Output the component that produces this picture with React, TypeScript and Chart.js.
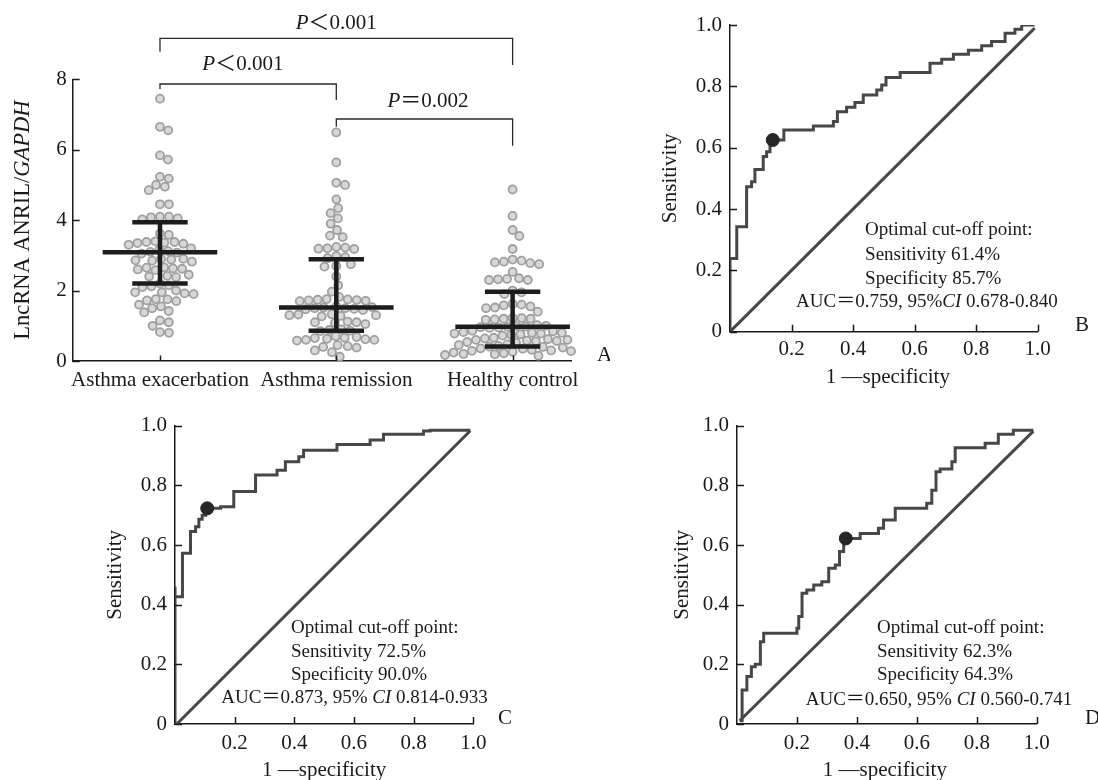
import React, { useEffect, useRef } from "react";
import { Chart, registerables } from "chart.js";

Chart.register(...registerables);

const FAMILY = "'Liberation Serif', 'Noto Sans CJK SC', serif";
const INK = "#1a1a1a";
const ROC_LINE = "#474747";

// ---------------- Panel A data ----------------
const CATEGORIES = ["Asthma exacerbation", "Asthma remission", "Healthy control"];
const EXACERBATION = [
  7.45, 6.65, 6.55, 5.84, 5.72, 5.23, 5.18, 5.0, 4.95, 4.85, 4.45, 4.45,
  4.1, 4.08, 4.05, 4.02, 4.1, 3.62, 3.58,
  3.4, 3.38, 3.36, 3.35, 3.33, 3.38, 3.3,
  3.2, 3.15, 3.1, 3.08, 3.05, 3.12,
  2.9, 2.88, 2.86, 2.85, 2.82, 2.9,
  2.65, 2.63, 2.6, 2.62, 2.66, 2.58,
  2.45, 2.4, 2.38, 2.42,
  2.2, 2.15, 2.12, 2.1,
  2.0, 1.95, 1.92, 1.9, 1.95,
  1.75, 1.72, 1.7, 1.76,
  1.6, 1.55, 1.5, 1.42, 1.38, 1.15, 1.1, 1.0, 0.82, 0.8,
];
const REMISSION = [
  6.49, 5.64, 5.06, 5.0, 4.59, 4.34, 4.2, 4.05, 3.9, 3.72, 3.56, 3.52,
  3.24, 3.22, 3.2, 3.19, 3.18, 2.98, 2.95, 2.92, 2.75, 2.7, 2.68, 2.4, 2.15,
  1.97, 1.82,
  1.75, 1.73, 1.72, 1.74, 1.7, 1.76, 1.71,
  1.55, 1.52, 1.5, 1.48, 1.5, 1.53, 1.47, 1.45,
  1.32, 1.3, 1.28, 1.33, 1.3, 1.27,
  1.12, 1.1, 1.08, 1.05, 1.1,
  0.9, 0.88, 0.86, 0.85,
  0.68, 0.65, 0.62, 0.6, 0.58, 0.6, 0.63, 0.66, 0.7,
  0.45, 0.42, 0.4, 0.38, 0.3, 0.25, 0.12,
];
const HEALTHY = [
  4.87, 4.12, 3.72, 3.55, 3.18,
  2.88, 2.85, 2.82, 2.78, 2.75, 2.8, 2.53,
  2.35, 2.32, 2.3, 2.3, 2.33,
  2.0, 1.95, 1.9,
  1.62, 1.58, 1.55, 1.5, 1.52, 1.6, 1.4,
  1.22, 1.2, 1.18, 1.2, 1.22, 1.17,
  1.0, 0.98, 0.97, 0.95, 1.02, 0.96, 0.99, 0.94,
  0.82, 0.78, 0.74, 0.84, 0.76, 0.8, 0.86, 0.72, 0.78, 0.8,
  0.62, 0.56, 0.66, 0.54, 0.6, 0.58, 0.64, 0.52, 0.6, 0.57,
  0.45, 0.4, 0.36, 0.43, 0.38, 0.41, 0.47, 0.35,
  0.3, 0.24, 0.2, 0.28, 0.22, 0.17, 0.32, 0.26, 0.19, 0.23, 0.29, 0.15,
];
const MEDIANS = [3.09, 1.52, 0.97];
const Q1 = [2.2, 0.86, 0.41];
const Q3 = [3.94, 2.89, 1.97];
const A_Y_TICKS = [0, 2, 4, 6, 8];
const COMPARE_FROM = [1, 1, 2];
const COMPARE_TO = [3, 2, 3];
const COMPARE_TEXT = ["＜0.001", "＜0.001", "＝0.002"];

// ---------------- ROC data ----------------
const ROC_X_TICKS = [0.2, 0.4, 0.6, 0.8, 1.0];
const ROC_Y_TICKS = [0, 0.2, 0.4, 0.6, 0.8, 1.0];

const B_FPR = [0, 0.022, 0.054, 0.07, 0.081, 0.108, 0.119, 0.13, 0.175, 0.271, 0.336, 0.349, 0.379, 0.406, 0.433, 0.477, 0.493, 0.507, 0.553, 0.65, 0.688, 0.726, 0.775, 0.818, 0.85, 0.894, 0.926, 0.948, 0.99];
const B_TPR = [0, 0.239, 0.342, 0.473, 0.489, 0.529, 0.571, 0.587, 0.625, 0.658, 0.671, 0.685, 0.717, 0.732, 0.747, 0.772, 0.788, 0.804, 0.829, 0.845, 0.875, 0.888, 0.905, 0.918, 0.932, 0.946, 0.973, 0.986, 1.0];
const B_CUTOFF = [0.139, 0.625];
const B_DIAG_X = [0, 0.99];
const B_DIAG_Y = [0, 0.99];
const B_NOTE = ["Optimal cut-off point:", "Sensitivity 61.4%", "Specificity 85.7%"];
const B_AUC = ["AUC＝0.759, 95%", "CI", " 0.678-0.840"];

const C_FPR = [0, 0, 0.025, 0.052, 0.069, 0.08, 0.091, 0.103, 0.153, 0.197, 0.27, 0.342, 0.37, 0.415, 0.431, 0.543, 0.654, 0.699, 0.833, 0.855, 0.99];
const C_TPR = [0, 0.46, 0.427, 0.572, 0.645, 0.661, 0.686, 0.7, 0.723, 0.728, 0.779, 0.835, 0.851, 0.879, 0.896, 0.918, 0.937, 0.952, 0.971, 0.982, 0.985];
const C_CUTOFF = [0.108, 0.723];
const C_DIAG_X = [0.006, 0.99];
const C_DIAG_Y = [0, 0.983];
const C_NOTE = ["Optimal cut-off point:", "Sensitivity 72.5%", "Specificity 90.0%"];
const C_AUC = ["AUC＝0.873, 95% ", "CI", " 0.814-0.933"];

const D_FPR = [0.009, 0.017, 0.033, 0.048, 0.061, 0.078, 0.089, 0.2, 0.206, 0.217, 0.233, 0.256, 0.283, 0.306, 0.328, 0.342, 0.356, 0.411, 0.472, 0.489, 0.528, 0.633, 0.65, 0.664, 0.678, 0.717, 0.728, 0.828, 0.872, 0.922, 0.989];
const D_TPR = [0.011, 0.011, 0.114, 0.159, 0.192, 0.2, 0.276, 0.304, 0.321, 0.36, 0.438, 0.449, 0.466, 0.477, 0.522, 0.533, 0.578, 0.622, 0.639, 0.656, 0.684, 0.723, 0.74, 0.784, 0.846, 0.855, 0.879, 0.926, 0.941, 0.971, 0.985];
const D_CUTOFF = [0.363, 0.622];
const D_DIAG_X = [0.009, 0.989];
const D_DIAG_Y = [0.011, 0.982];
const D_NOTE = ["Optimal cut-off point:", "Sensitivity 62.3%", "Specificity 64.3%"];
const D_AUC = ["AUC＝0.650, 95% ", "CI", " 0.560-0.741"];

// ---------------- layout ----------------
const A_LAYOUT = {
  left: 0, top: 0, w: 610, h: 400,
  axisW: 72.7, axisH: 39, padTop: 79.3, padRight: 38.3,
  xMin: 0.505, xMax: 3.335,
  medianHalf: 0.325, capHalf: 0.157, swarmGap: 9,
  bracketY: [9.165, 7.867, 6.873],
  bracketLeftEnd: [8.785, 7.717, 6.655],
  bracketRightEnd: [8.407, 7.413, 6.115],
  labelX: [2.0, 1.47, 2.52],
  labelY: [9.59, 8.41, 7.36],
  letter: [597, 355],
  yTitleX: 23,
};

const ROC_PANELS = [
  {
    key: "B", left: 610, top: 0, w: 488, h: 400, axisW: 120, axisH: 68.3, padTop: 25, padRight: 60.3,
    fpr: B_FPR, tpr: B_TPR, cut: B_CUTOFF, diagX: B_DIAG_X, diagY: B_DIAG_Y, note: B_NOTE, auc: B_AUC,
    noteX: 0.439, noteY: [0.332, 0.249, 0.173, 0.097], aucX: 0.64,
    letter: [465, 325], yTitleGap: 60, xTitleGap: 46, xTitleDx: 4, xLabelPad: 5,
  },
  {
    key: "C", left: 0, top: 400, w: 549, h: 380, axisW: 175, axisH: 56, padTop: 25.7, padRight: 75.7,
    fpr: C_FPR, tpr: C_TPR, cut: C_CUTOFF, diagX: C_DIAG_X, diagY: C_DIAG_Y, note: C_NOTE, auc: C_AUC,
    noteX: 0.389, noteY: [0.321, 0.242, 0.164, 0.086], aucX: 0.602,
    letter: [498, 318], yTitleGap: 60, xTitleGap: 46, xTitleDx: 0, xLabelPad: 7,
  },
  {
    key: "D", left: 549, top: 400, w: 549, h: 380, axisW: 188, axisH: 56, padTop: 25.7, padRight: 61.3,
    fpr: D_FPR, tpr: D_TPR, cut: D_CUTOFF, diagX: D_DIAG_X, diagY: D_DIAG_Y, note: D_NOTE, auc: D_AUC,
    noteX: 0.467, noteY: [0.321, 0.242, 0.164, 0.08], aucX: 0.674,
    letter: [536, 318], yTitleGap: 55, xTitleGap: 46, xTitleDx: -2, xLabelPad: 7,
  },
];

// ---------------- helpers ----------------
type Seg = { t: string; i?: boolean };

function fontStr(size: number, italic = false) {
  return `${italic ? "italic " : ""}${size}px ${FAMILY}`;
}

function drawRich(ctx: CanvasRenderingContext2D, segs: Seg[], x: number, y: number, size: number, align: "left" | "center" | "right" = "center") {
  let total = 0;
  const widths = segs.map((s) => {
    ctx.font = fontStr(size, !!s.i);
    const w = ctx.measureText(s.t).width;
    total += w;
    return w;
  });
  let cx = align === "left" ? x : align === "center" ? x - total / 2 : x - total;
  ctx.textAlign = "left";
  ctx.textBaseline = "middle";
  ctx.fillStyle = INK;
  segs.forEach((s, k) => {
    ctx.font = fontStr(size, !!s.i);
    ctx.fillText(s.t, cx, y);
    cx += widths[k];
  });
}

function inwardTicks(xTicks: number[], yTicks: number[], xLen: number, yLen: number) {
  return {
    id: "inwardTicks",
    afterDatasetsDraw(chart: any) {
      const ctx = chart.ctx as CanvasRenderingContext2D;
      const xs = chart.scales.x;
      const ys = chart.scales.y;
      const { left, bottom } = chart.chartArea;
      ctx.save();
      ctx.strokeStyle = INK;
      ctx.lineWidth = 1.5;
      xTicks.forEach((t) => {
        const px = Math.round(xs.getPixelForValue(t)) + 0.5;
        ctx.beginPath();
        ctx.moveTo(px, bottom);
        ctx.lineTo(px, bottom - xLen);
        ctx.stroke();
      });
      yTicks.forEach((t) => {
        const py = Math.round(ys.getPixelForValue(t)) + 0.5;
        ctx.beginPath();
        ctx.moveTo(left, py);
        ctx.lineTo(left + yLen, py);
        ctx.stroke();
      });
      ctx.restore();
    },
  };
}

function stepPath(fpr: number[], tpr: number[]) {
  const pts = [{ x: fpr[0], y: tpr[0] }];
  for (let i = 1; i < fpr.length; i++) {
    pts.push({ x: fpr[i - 1], y: tpr[i] });
    pts.push({ x: fpr[i], y: tpr[i] });
  }
  return pts;
}

function swarm(values: number[], centerPx: number, xs: any, ys: any, gap: number) {
  const order = values.map((_, i) => i).sort((a, b) => values[b] - values[a]);
  const placed: { x: number; y: number }[] = [];
  const out: any[] = new Array(values.length);
  for (const i of order) {
    const py = ys.getPixelForValue(values[i]);
    const cands = [0];
    for (const p of placed) {
      const dy = py - p.y;
      if (Math.abs(dy) < gap) {
        const dx = Math.sqrt(gap * gap - dy * dy);
        cands.push(p.x + dx, p.x - dx);
      }
    }
    cands.sort((a, b) => Math.abs(a) - Math.abs(b) || b - a);
    let chosen = 0;
    for (const c of cands) {
      if (placed.every((p) => (p.x - c) ** 2 + (p.y - py) ** 2 >= gap * gap - 0.01)) {
        chosen = c;
        break;
      }
    }
    placed.push({ x: chosen, y: py });
    out[i] = { x: xs.getValueForPixel(centerPx + chosen), y: values[i] };
  }
  return out;
}

const tickFont = { family: FAMILY, size: 21 };

// ---------------- Panel A ----------------
function makePanelA(canvas: HTMLCanvasElement) {
  const L = A_LAYOUT;
  const groups = [EXACERBATION, REMISSION, HEALTHY];

  const errPts: any[] = [];
  for (let g = 0; g < 3; g++) {
    const c = g + 1;
    errPts.push({ x: c - L.medianHalf, y: MEDIANS[g] }, { x: c + L.medianHalf, y: MEDIANS[g] }, { x: c, y: null });
    errPts.push({ x: c - L.capHalf, y: Q3[g] }, { x: c + L.capHalf, y: Q3[g] }, { x: c, y: null });
    errPts.push({ x: c - L.capHalf, y: Q1[g] }, { x: c + L.capHalf, y: Q1[g] }, { x: c, y: null });
    errPts.push({ x: c, y: Q1[g] }, { x: c, y: Q3[g] }, { x: c, y: null });
  }

  const brPts: any[] = [];
  for (let k = 0; k < COMPARE_FROM.length; k++) {
    brPts.push(
      { x: COMPARE_FROM[k], y: L.bracketLeftEnd[k] },
      { x: COMPARE_FROM[k], y: L.bracketY[k] },
      { x: COMPARE_TO[k], y: L.bracketY[k] },
      { x: COMPARE_TO[k], y: L.bracketRightEnd[k] },
      { x: COMPARE_TO[k], y: null }
    );
  }

  const pointSets = groups.map((vals, g) => ({
    type: "scatter",
    data: vals.map((v) => ({ x: g + 1, y: v })),
    pointRadius: 4,
    pointBorderWidth: 1.8,
    pointBackgroundColor: "#d8d8d8",
    pointBorderColor: "#a0a0a0",
    backgroundColor: "#d8d8d8",
    borderColor: "#a0a0a0",
    order: 3,
    clip: false,
  }));

  const textPlugin = {
    id: "panelAText",
    afterDraw(chart: any) {
      const ctx = chart.ctx as CanvasRenderingContext2D;
      const xs = chart.scales.x;
      const ys = chart.scales.y;
      const { top, bottom } = chart.chartArea;
      ctx.save();
      ctx.translate(L.yTitleX, (top + bottom) / 2);
      ctx.rotate(-Math.PI / 2);
      drawRich(ctx, [{ t: "LncRNA ANRIL/" }, { t: "GAPDH", i: true }], 0, 0, 22.5, "center");
      ctx.restore();
      ctx.save();
      for (let k = 0; k < COMPARE_TEXT.length; k++) {
        drawRich(ctx, [{ t: "P", i: true }, { t: COMPARE_TEXT[k] }], xs.getPixelForValue(L.labelX[k]), ys.getPixelForValue(L.labelY[k]), 21, "center");
      }
      drawRich(ctx, [{ t: "A" }], L.letter[0], L.letter[1], 21, "left");
      ctx.restore();
    },
  };

  const chart = new Chart(canvas, {
    type: "scatter",
    data: {
      datasets: [
        { type: "line", data: errPts, borderColor: "#1c1c1c", borderWidth: 4.5, pointRadius: 0, spanGaps: false, tension: 0, order: 1 } as any,
        { type: "line", data: brPts, borderColor: "#2a2a2a", borderWidth: 1.3, pointRadius: 0, spanGaps: false, tension: 0, order: 0, clip: false } as any,
        ...(pointSets as any[]),
      ],
    },
    options: {
      responsive: false,
      animation: false,
      events: [],
      plugins: { legend: { display: false }, tooltip: { enabled: false } },
      layout: { padding: { left: 0, top: L.padTop, right: L.padRight, bottom: 0 } },
      scales: {
        x: {
          type: "linear",
          min: L.xMin,
          max: L.xMax,
          afterBuildTicks: (s: any) => {
            s.ticks = CATEGORIES.map((_, i) => ({ value: i + 1 }));
          },
          ticks: {
            font: tickFont,
            color: INK,
            padding: 7,
            maxRotation: 0,
            autoSkip: false,
            callback: (v: any) => CATEGORIES[Math.round(v) - 1] ?? "",
          },
          grid: { display: false, drawTicks: false },
          border: { display: true, color: INK, width: 1.5 },
          afterFit: (s: any) => {
            s.height = L.axisH;
            s.paddingLeft = 0;
            s.paddingRight = 0;
          },
        },
        y: {
          type: "linear",
          min: 0,
          max: 8,
          afterBuildTicks: (s: any) => {
            s.ticks = A_Y_TICKS.map((v) => ({ value: v }));
          },
          ticks: { font: tickFont, color: INK, padding: 6, callback: (v: any) => String(v) },
          grid: { display: false, drawTicks: false },
          border: { display: true, color: INK, width: 1.5 },
          afterFit: (s: any) => {
            s.width = L.axisW;
            s.paddingTop = 0;
            s.paddingBottom = 0;
          },
        },
      },
    } as any,
    plugins: [inwardTicks([1, 2, 3], A_Y_TICKS, 5.5, 7) as any, textPlugin as any],
  });

  const xs = chart.scales.x;
  const ys = chart.scales.y;
  groups.forEach((vals, g) => {
    chart.data.datasets[2 + g].data = swarm(vals, xs.getPixelForValue(g + 1), xs, ys, L.swarmGap);
  });
  chart.update();
  return chart;
}

// ---------------- ROC panels ----------------
function makeRoc(canvas: HTMLCanvasElement, P: any) {
  const textPlugin = {
    id: "rocText" + P.key,
    afterDraw(chart: any) {
      const ctx = chart.ctx as CanvasRenderingContext2D;
      const xs = chart.scales.x;
      const ys = chart.scales.y;
      const { left, right, top, bottom } = chart.chartArea;
      ctx.save();
      ctx.translate(left - P.yTitleGap, (top + bottom) / 2);
      ctx.rotate(-Math.PI / 2);
      drawRich(ctx, [{ t: "Sensitivity" }], 0, 0, 21, "center");
      ctx.restore();
      ctx.save();
      drawRich(ctx, [{ t: "1 —specificity" }], (left + right) / 2 + P.xTitleDx, bottom + P.xTitleGap, 21, "center");
      const nx = xs.getPixelForValue(P.noteX);
      P.note.forEach((line: string, i: number) => {
        drawRich(ctx, [{ t: line }], nx, ys.getPixelForValue(P.noteY[i]), 19, "left");
      });
      drawRich(
        ctx,
        [{ t: P.auc[0] }, { t: P.auc[1], i: true }, { t: P.auc[2] }],
        xs.getPixelForValue(P.aucX),
        ys.getPixelForValue(P.noteY[3]),
        19,
        "center"
      );
      drawRich(ctx, [{ t: P.key }], P.letter[0], P.letter[1], 21, "left");
      ctx.restore();
    },
  };

  const fmt = (v: number) => (v === 0 ? "0" : v.toFixed(1));

  return new Chart(canvas, {
    type: "scatter",
    data: {
      datasets: [
        {
          type: "scatter",
          data: [{ x: P.cut[0], y: P.cut[1] }],
          pointRadius: 6.5,
          pointBackgroundColor: "#262626",
          pointBorderColor: "#262626",
          backgroundColor: "#262626",
          borderColor: "#262626",
          order: 0,
        },
        {
          type: "line",
          data: stepPath(P.fpr, P.tpr),
          borderColor: ROC_LINE,
          borderWidth: 3,
          pointRadius: 0,
          tension: 0,
          order: 1,
        },
        {
          type: "line",
          data: P.diagX.map((x: number, i: number) => ({ x, y: P.diagY[i] })),
          borderColor: ROC_LINE,
          borderWidth: 3,
          pointRadius: 0,
          tension: 0,
          order: 2,
        },
      ] as any,
    },
    options: {
      responsive: false,
      animation: false,
      events: [],
      plugins: { legend: { display: false }, tooltip: { enabled: false } },
      layout: { padding: { left: 0, top: P.padTop, right: P.padRight, bottom: 0 } },
      scales: {
        x: {
          type: "linear",
          min: 0,
          max: 1,
          afterBuildTicks: (s: any) => {
            s.ticks = ROC_X_TICKS.map((v) => ({ value: v }));
          },
          ticks: { font: tickFont, color: INK, padding: P.xLabelPad, maxRotation: 0, autoSkip: false, callback: (v: any) => fmt(v) },
          grid: { display: false, drawTicks: false },
          border: { display: true, color: INK, width: 1.5 },
          afterFit: (s: any) => {
            s.height = P.axisH;
            s.paddingLeft = 0;
            s.paddingRight = 0;
          },
        },
        y: {
          type: "linear",
          min: 0,
          max: 1,
          afterBuildTicks: (s: any) => {
            s.ticks = ROC_Y_TICKS.map((v) => ({ value: v }));
          },
          ticks: { font: tickFont, color: INK, padding: 8, callback: (v: any) => fmt(v) },
          grid: { display: false, drawTicks: false },
          border: { display: true, color: INK, width: 1.5 },
          afterFit: (s: any) => {
            s.width = P.axisW;
            s.paddingTop = 0;
            s.paddingBottom = 0;
          },
        },
      },
    } as any,
    plugins: [inwardTicks(ROC_X_TICKS, ROC_Y_TICKS, 7, 7) as any, textPlugin as any],
  });
}

export default function App() {
  const aRef = useRef<HTMLCanvasElement>(null);
  const bRef = useRef<HTMLCanvasElement>(null);
  const cRef = useRef<HTMLCanvasElement>(null);
  const dRef = useRef<HTMLCanvasElement>(null);

  useEffect(() => {
    Chart.defaults.font.family = FAMILY;
    Chart.defaults.color = INK;
    const charts: Chart[] = [];
    if (aRef.current) charts.push(makePanelA(aRef.current));
    const refs = [bRef, cRef, dRef];
    ROC_PANELS.forEach((P, i) => {
      const el = refs[i].current;
      if (el) charts.push(makeRoc(el, P));
    });
    return () => charts.forEach((c) => c.destroy());
  }, []);

  const refs = [bRef, cRef, dRef];
  return (
    <div style={{ position: "absolute", left: 0, top: 0, width: 1098, height: 780, background: "#fff", overflow: "hidden" }}>
      <canvas
        ref={aRef}
        width={A_LAYOUT.w}
        height={A_LAYOUT.h}
        style={{ position: "absolute", left: A_LAYOUT.left, top: A_LAYOUT.top, width: A_LAYOUT.w, height: A_LAYOUT.h }}
      />
      {ROC_PANELS.map((P, i) => (
        <canvas
          key={P.key}
          ref={refs[i]}
          width={P.w}
          height={P.h}
          style={{ position: "absolute", left: P.left, top: P.top, width: P.w, height: P.h }}
        />
      ))}
    </div>
  );
}
